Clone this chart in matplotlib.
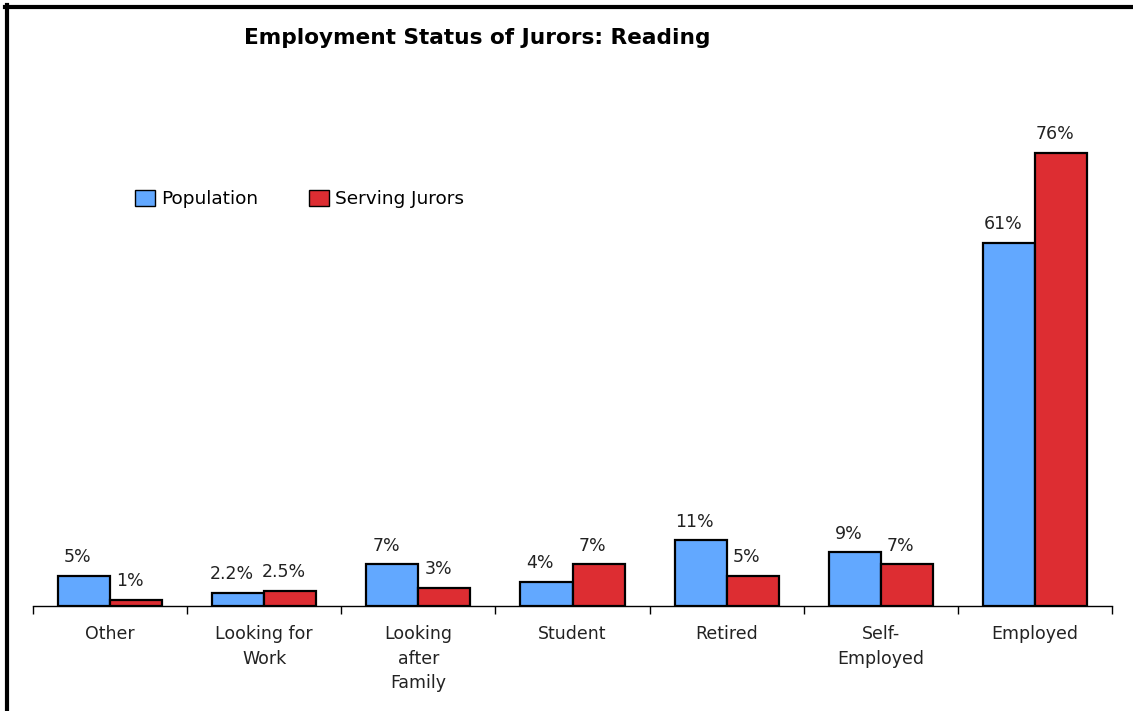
import numpy as np
import matplotlib.pyplot as plt
from matplotlib.lines import Line2D
from matplotlib.patches import Patch

# Employment categories and shares (%)
categories = ["Other", "Looking for\nWork", "Looking\nafter\nFamily", "Student",
              "Retired", "Self-\nEmployed", "Employed"]
population = [5, 2.2, 7, 4, 11, 9, 61]
serving_jurors = [1, 2.5, 3, 7, 5, 7, 76]

blue = "#62A8FF"
red = "#DD2D32"

W, H = 1133, 711
fig = plt.figure(figsize=(W / 100, H / 100), dpi=100)
plt.rcParams['font.family'] = ['DejaVu Sans']

# axes placed in pixel terms: baseline at y=606, x from 33 to 1112
ax = fig.add_axes([33 / W, (H - 606) / H, (1112 - 33) / W, 606 / H])
ax.set_xlim(0, len(categories))
ax.set_ylim(0, 101.7)

x = np.arange(len(categories)) + 0.5
bw = 0.338
ax.bar(x - bw / 2, population, bw, color=blue, edgecolor="black", linewidth=1.6)
ax.bar(x + bw / 2, serving_jurors, bw, color=red, edgecolor="black", linewidth=1.6)

def fmt(v):
    return f"{v:g}%" if v == int(v) else f"{v:.1f}%"

for xi, v in zip(x - bw / 2, population):
    ax.annotate(fmt(v), (xi - 0.04, v), xytext=(0, 7), textcoords="offset points",
                ha="center", va="bottom", fontsize=12.5, color="#222222")
for xi, v in zip(x + bw / 2, serving_jurors):
    ax.annotate(fmt(v), (xi - 0.04, v), xytext=(0, 7), textcoords="offset points",
                ha="center", va="bottom", fontsize=12.5, color="#222222")

for s in ["top", "right", "left"]:
    ax.spines[s].set_visible(False)
ax.spines["bottom"].set_linewidth(1.0)
ax.set_yticks([])

# labels at the centres, ticks at category boundaries
ax.set_xticks(x)
ax.set_xticklabels(categories, fontsize=12.5, color="#222222", linespacing=1.45, va="top")
ax.tick_params(axis="x", which="major", length=0, pad=14)
ax.set_xticks(np.arange(len(categories) + 1), minor=True)
ax.tick_params(axis="x", which="minor", length=6, width=1.0, direction="out")

fig.text(477 / W, 1 - 38 / H, "Employment Status of Jurors: Reading",
         ha="center", va="center", fontsize=15.6, fontweight="bold")

handles = [Patch(facecolor=blue, edgecolor="black", linewidth=1.0, label="Population"),
           Patch(facecolor=red, edgecolor="black", linewidth=1.0, label="Serving Jurors")]
fig.legend(handles=handles, loc="center left", bbox_to_anchor=(118 / W, 1 - 199 / H),
           ncol=2, frameon=False, fontsize=13.3, handlelength=1.08, handleheight=1.0,
           handletextpad=0.35, columnspacing=2.75)

# black frame along left and top edges
fig.add_artist(Line2D([7 / W, 7 / W], [0, 1 - 5 / H], color="black", lw=3, transform=fig.transFigure))
fig.add_artist(Line2D([5 / W, 1], [1 - 7 / H, 1 - 7 / H], color="black", lw=3, transform=fig.transFigure))

fig.savefig("out.png", dpi=100)
